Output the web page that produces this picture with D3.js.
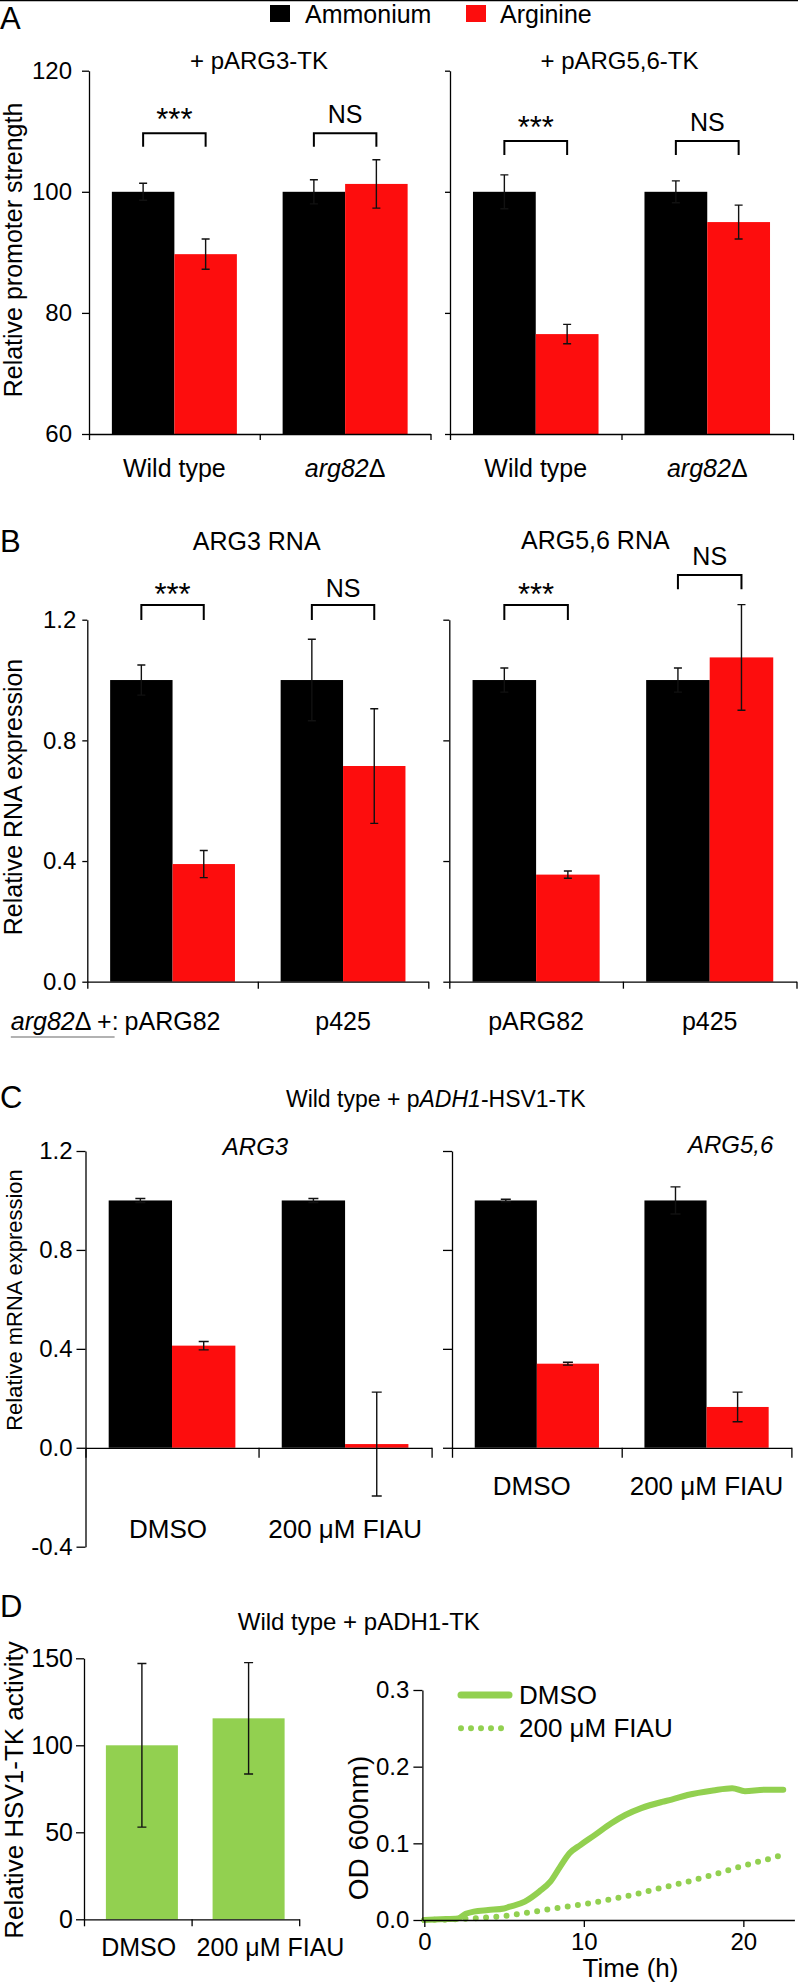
<!DOCTYPE html>
<html><head><meta charset="utf-8">
<script src="https://cdn.jsdelivr.net/npm/d3@7"></script>
<style>
body{margin:0;background:#fff;}
svg text{font-family:"Liberation Sans",Arial,Helvetica,sans-serif;fill:#000;}
</style></head><body>
<svg id="chart" width="798" height="1985"></svg>
<script>
// ---------------- DATA ----------------
const seriesNames = ["Ammonium", "Arginine"];

// Panel A (relative promoter strength)
const aCategories = ["Wild type", "arg82Δ"];
const aTicks = [60, 80, 100, 120];
const aArg3Ammonium = [100, 100];
const aArg3AmmoniumErr = [1.4, 2.0];
const aArg3Arginine = [89.7, 101.3];
const aArg3ArginineErr = [2.5, 4.0];
const aArg56Ammonium = [100, 100];
const aArg56AmmoniumErr = [2.8, 1.8];
const aArg56Arginine = [76.5, 95.0];
const aArg56ArginineErr = [1.6, 2.8];
const aArg3Sig = ["***", "NS"];
const aArg56Sig = ["***", "NS"];

// Panel B (relative RNA expression)
const bCategories = ["pARG82", "p425"];
const bTicks = [0.0, 0.4, 0.8, 1.2];
const bArg3Ammonium = [1.0, 1.0];
const bArg3AmmoniumErr = [0.05, 0.135];
const bArg3Arginine = [0.39, 0.715];
const bArg3ArginineErr = [0.045, 0.19];
const bArg56Ammonium = [1.0, 1.0];
const bArg56AmmoniumErr = [0.04, 0.04];
const bArg56Arginine = [0.355, 1.075];
const bArg56ArginineErr = [0.012, 0.175];
const bArg3Sig = ["***", "NS"];
const bArg56Sig = ["***", "NS"];

// Panel C (relative mRNA expression)
const cCategories = ["DMSO", "200 μM FIAU"];
const cTicks = [-0.4, 0.0, 0.4, 0.8, 1.2];
const cArg3Ammonium = [1.0, 1.0];
const cArg3AmmoniumErr = [0.008, 0.008];
const cArg3Arginine = [0.413, 0.015];
const cArg3ArginineErr = [0.017, 0.21];
const cArg56Ammonium = [1.0, 1.0];
const cArg56AmmoniumErr = [0.005, 0.055];
const cArg56Arginine = [0.34, 0.165];
const cArg56ArginineErr = [0.006, 0.06];

// Panel D left (relative HSV1-TK activity)
const dCategories = ["DMSO", "200 μM FIAU"];
const dTicks = [0, 50, 100, 150];
const dActivity = [100, 115.5];
const dActivityErr = [47, 32];

// Panel D right (growth curves)
const dTimeTicks = [0, 10, 20];
const dOdTicks = [0.0, 0.1, 0.2, 0.3];
const dmsoTime = [0, 1, 2.1, 2.6, 3.1, 4, 5, 5.3, 6.3, 7.2, 7.9, 8.5, 9.1, 9.8, 10.7, 11.7, 12.6, 13.6, 14.9, 15.5, 16.5, 18.1, 19.3, 20.1, 21.3, 22.5];
const dmsoOD = [0, 0.001, 0.002, 0.008, 0.011, 0.013, 0.015, 0.017, 0.024, 0.037, 0.050, 0.069, 0.087, 0.098, 0.111, 0.126, 0.137, 0.146, 0.154, 0.157, 0.163, 0.169, 0.172, 0.168, 0.170, 0.170];
const fiauTime = [0, 2.1, 3.7, 5.3, 6.9, 8.5, 10.1, 11.7, 13.3, 14.9, 16.5, 18.1, 19.7, 21.3, 22.5];
const fiauOD = [0, 0.001, 0.003, 0.006, 0.011, 0.016, 0.021, 0.027, 0.034, 0.042, 0.050, 0.059, 0.069, 0.078, 0.085];
const growthLabels = ["DMSO", "200 μM FIAU"];

// ---------------- STYLE ----------------
const colors = ["#000000", "#fd0d0d"];
const green = "#92d050";
const FONT = 25, TICKFONT = 24;

const svg = d3.select("#chart");
svg.append("rect").attr("width", 798).attr("height", 1985).attr("fill", "#fff");
svg.append("line").attr("x1", 0).attr("x2", 798).attr("y1", 0.6).attr("y2", 0.6).attr("stroke", "#000").attr("stroke-width", 1.4);

function parts(s) {
  if (s.startsWith("arg82")) return [["arg82", true], [s.slice(5), false]];
  return [[s, false]];
}
function richText(x, y, ps, size, anchor, rotate) {
  const t = svg.append("text").attr("font-size", size).attr("text-anchor", anchor || "middle");
  if (rotate) t.attr("transform", `translate(${x},${y}) rotate(-90)`);
  else t.attr("x", x).attr("y", y);
  ps.forEach(p => { const s = t.append("tspan").text(p[0]); if (p[1]) s.attr("font-style", "italic"); });
  return t;
}
function styleAxis(sel, fs) {
  sel.attr("font-family", null).attr("font-size", null);
  sel.select(".domain").attr("stroke", "#000").attr("stroke-width", 1.3);
  sel.selectAll(".tick line").attr("stroke", "#000").attr("stroke-width", 1.3);
  sel.selectAll(".tick text").attr("font-size", fs).attr("fill", "#000");
}
const fmt1 = d => d.toFixed(1);

function barPanel(p) {
  const g = svg.append("g");
  const y = d3.scaleLinear().domain(p.yDomain).range([p.yBottom, p.yTop]);
  const x = d3.scaleBand().domain(p.categories).range([p.x0, p.x1]);
  const xs = d3.scaleBand().domain([0, 1]).range([0, x.bandwidth()]).paddingOuter(p.outer);
  const base = y(p.base);
  p.series.forEach((s, si) => {
    g.append("g").selectAll("rect").data(s.values).join("rect")
      .attr("x", (d, i) => x(p.categories[i]) + xs(si))
      .attr("width", xs.bandwidth())
      .attr("y", d => Math.min(y(d), base))
      .attr("height", d => Math.abs(base - y(d)))
      .attr("fill", colors[si]);
  });
  p.series.forEach((s, si) => {
    const eg = g.append("g").attr("stroke", "#111").attr("stroke-width", 1.4).attr("fill", "none");
    s.values.forEach((v, i) => {
      const cx = x(p.categories[i]) + xs(si) + xs.bandwidth() / 2;
      const y1 = y(v + s.err[i]), y2 = y(v - s.err[i]);
      const c = p.cap / 2;
      eg.append("path").attr("d", `M${cx},${y1}V${y2}M${cx - c},${y1}H${cx + c}M${cx - c},${y2}H${cx + c}`);
    });
  });
  // y axis
  const ya = d3.scaleLinear().domain(p.axisDomain || p.yDomain).range((p.axisDomain || p.yDomain).map(y));
  const yAxis = d3.axisLeft(ya).tickValues(p.ticks).tickSize(p.yTick).tickSizeOuter(0).tickPadding(p.yPad)
    .tickFormat(p.showLabels ? p.fmt : "");
  styleAxis(g.append("g").attr("transform", `translate(${p.x0},0)`).call(yAxis), p.tickFont || TICKFONT);
  // x axis
  const n = p.categories.length;
  const xl = d3.scaleLinear().domain([0, n]).range([p.x0, p.x1]);
  const xAxis = d3.axisBottom(xl).tickValues(d3.range(n + 1)).tickFormat("").tickSize(p.xTick).tickSizeOuter(0);
  styleAxis(g.append("g").attr("transform", `translate(0,${y(p.base)})`).call(xAxis), 10);
  // category labels
  if (p.labelY) {
    p.categories.forEach((c, i) => {
      richText(x(c) + x.bandwidth() / 2 + (p.labelDx ? p.labelDx[i] : 0), p.labelY, parts(c), p.labelFont || FONT, "middle");
    });
  }
  // significance brackets
  if (p.sig) {
    p.sig.forEach((lab, i) => {
      const s = p.sigPos[i];
      const xa = x(p.categories[i]) + xs(0) + xs.bandwidth() / 2;
      const xb = x(p.categories[i]) + xs(1) + xs.bandwidth() / 2;
      g.append("path").attr("d", `M${xa},${s.bottom}V${s.top}H${xb}V${s.bottom}`)
        .attr("fill", "none").attr("stroke", "#000").attr("stroke-width", 2);
      g.append("text").attr("x", (xa + xb) / 2).attr("y", s.text).attr("text-anchor", "middle")
        .attr("font-size", lab === "NS" ? 25 : 31).text(lab);
    });
  }
  return { x, y, xs };
}

// ---------------- PANEL A ----------------
svg.append("text").attr("x", 0).attr("y", 29).attr("font-size", 31).text("A");
// legend
svg.append("rect").attr("x", 270).attr("y", 5).attr("width", 20).attr("height", 17).attr("fill", colors[0]);
svg.append("text").attr("x", 305).attr("y", 23).attr("font-size", FONT).text(seriesNames[0]);
svg.append("rect").attr("x", 466).attr("y", 5).attr("width", 20).attr("height", 17).attr("fill", colors[1]);
svg.append("text").attr("x", 500).attr("y", 23).attr("font-size", FONT).text(seriesNames[1]);

richText(259, 69, [["+ pARG3-TK", false]], 24);
richText(619.5, 69, [["+ pARG5,6-TK", false]], 24);
richText(22, 250, [["Relative promoter strength", false]], FONT, "middle", true);

barPanel({
  categories: aCategories, yDomain: [60, 120], base: 60, yTop: 70.7, yBottom: 434,
  x0: 89, x1: 430.5, outer: 0.366, cap: 8, yTick: 7, yPad: 10, xTick: 6, showLabels: true, fmt: d => d,
  ticks: aTicks, labelY: 477,
  series: [{ values: aArg3Ammonium, err: aArg3AmmoniumErr }, { values: aArg3Arginine, err: aArg3ArginineErr }],
  sig: aArg3Sig, sigPos: [{ top: 133.3, bottom: 146.7, text: 130 }, { top: 133.3, bottom: 146.7, text: 123.3 }]
});
barPanel({
  categories: aCategories, yDomain: [60, 120], base: 60, yTop: 70.7, yBottom: 434,
  x0: 450, x1: 793, outer: 0.366, cap: 8, yTick: 5, yPad: 3, xTick: 6, showLabels: false,
  ticks: aTicks, labelY: 477,
  series: [{ values: aArg56Ammonium, err: aArg56AmmoniumErr }, { values: aArg56Arginine, err: aArg56ArginineErr }],
  sig: aArg56Sig, sigPos: [{ top: 141, bottom: 155, text: 138.4 }, { top: 141, bottom: 155, text: 130.7 }]
});

// ---------------- PANEL B ----------------
svg.append("text").attr("x", 0).attr("y", 552).attr("font-size", 31).text("B");
richText(256.7, 550, [["ARG3 RNA", false]], FONT);
richText(595.3, 549, [["ARG5,6 RNA", false]], FONT);
richText(22, 797, [["Relative RNA expression", false]], FONT, "middle", true);

const bLeft = barPanel({
  categories: bCategories, yDomain: [0, 1.2], base: 0, yTop: 619.7, yBottom: 981.7,
  x0: 87.3, x1: 428.3, outer: 0.366, cap: 8, yTick: 5, yPad: 6, xTick: 7, showLabels: true, fmt: fmt1,
  ticks: bTicks, labelY: null,
  series: [{ values: bArg3Ammonium, err: bArg3AmmoniumErr }, { values: bArg3Arginine, err: bArg3ArginineErr }],
  sig: bArg3Sig, sigPos: [{ top: 605, bottom: 620, text: 605 }, { top: 605, bottom: 620, text: 596.7 }]
});
barPanel({
  categories: bCategories, yDomain: [0, 1.2], base: 0, yTop: 619.7, yBottom: 981.7,
  x0: 449.3, x1: 796.5, outer: 0.366, cap: 8, yTick: 6, yPad: 3, xTick: 7, showLabels: false,
  ticks: bTicks, labelY: 1030,
  series: [{ values: bArg56Ammonium, err: bArg56AmmoniumErr }, { values: bArg56Arginine, err: bArg56ArginineErr }],
  sig: bArg56Sig, sigPos: [{ top: 605, bottom: 620, text: 605 }, { top: 575, bottom: 589.3, text: 565 }]
});
// left B category labels with strain prefix
{
  const bx = bLeft.x;
  const c0 = bx(bCategories[0]) + bx.bandwidth() / 2;
  const t0 = richText(c0, 1030, parts(bCategories[0]), FONT, "middle");
  const w0 = t0.node().getComputedTextLength();
  const pre = richText(c0 - w0 / 2 - 6, 1030, [["arg82", true], ["Δ +:", false]], FONT, "end");
  const bb = pre.node().getBBox();
  svg.append("line").attr("x1", bb.x).attr("x2", bb.x + bb.width - 4).attr("y1", 1037).attr("y2", 1037)
    .attr("stroke", "#666").attr("stroke-width", 1.2);
  richText(bx(bCategories[1]) + bx.bandwidth() / 2, 1030, parts(bCategories[1]), FONT, "middle");
}

// ---------------- PANEL C ----------------
svg.append("text").attr("x", 0).attr("y", 1108).attr("font-size", 31).text("C");
richText(435.8, 1107, [["Wild type + p", false], ["ADH1", true], ["-HSV1-TK", false]], 23);
richText(255.5, 1155, [["ARG3", true]], 24);
richText(773.3, 1153, [["ARG5,6", true]], 24, "end");
richText(22, 1300, [["Relative mRNA expression", false]], 22, "middle", true);

barPanel({
  categories: cCategories, yDomain: [-0.4, 1.2], base: 0, yTop: 1151, yBottom: 1546.7,
  x0: 85.5, x1: 431.6, outer: 0.366, cap: 10, yTick: 9, yPad: 4, xTick: 10, showLabels: true, fmt: fmt1,
  ticks: cTicks, labelY: 1538, labelFont: 26, labelDx: [-4, 0],
  series: [{ values: cArg3Ammonium, err: cArg3AmmoniumErr }, { values: cArg3Arginine, err: cArg3ArginineErr }]
});
barPanel({
  categories: cCategories, yDomain: [-0.4, 1.2], base: 0, yTop: 1151, yBottom: 1546.7, axisDomain: [0, 1.2],
  x0: 452, x1: 791.4, outer: 0.366, cap: 10, yTick: 9, yPad: 3, xTick: 10, showLabels: false,
  ticks: cTicks.filter(t => t >= 0), labelY: 1495, labelFont: 26, labelDx: [-5, 0],
  series: [{ values: cArg56Ammonium, err: cArg56AmmoniumErr }, { values: cArg56Arginine, err: cArg56ArginineErr }]
});

// ---------------- PANEL D ----------------
svg.append("text").attr("x", 0).attr("y", 1617).attr("font-size", 31).text("D");
richText(358.8, 1630, [["Wild type + pADH1-TK", false]], 24);
richText(23, 1790, [["Relative HSV1-TK activity", false]], 26, "middle", true);

{
  const g = svg.append("g");
  const y = d3.scaleLinear().domain([0, 150]).range([1919.3, 1658.3]);
  const x = d3.scaleBand().domain(dCategories).range([84, 299.2]).paddingInner(0.325).paddingOuter(0.171).align(0.6);
  g.selectAll("rect").data(dActivity).join("rect")
    .attr("x", (d, i) => x(dCategories[i])).attr("width", x.bandwidth())
    .attr("y", d => y(d)).attr("height", d => y(0) - y(d)).attr("fill", green);
  dActivity.forEach((v, i) => {
    const cx = x(dCategories[i]) + x.bandwidth() / 2, y1 = y(v + dActivityErr[i]), y2 = y(v - dActivityErr[i]);
    g.append("path").attr("d", `M${cx},${y1}V${y2}M${cx - 4.5},${y1}H${cx + 4.5}M${cx - 4.5},${y2}H${cx + 4.5}`)
      .attr("stroke", "#111").attr("stroke-width", 1.4).attr("fill", "none");
  });
  styleAxis(g.append("g").attr("transform", "translate(84,0)")
    .call(d3.axisLeft(y).tickValues(dTicks).tickSize(8).tickPadding(3).tickSizeOuter(0)), 25);
  const xl = d3.scaleLinear().domain([0, 2]).range([84, 299.2]);
  styleAxis(g.append("g").attr("transform", `translate(0,${y(0)})`)
    .call(d3.axisBottom(xl).tickValues([0, 1, 2]).tickFormat("").tickSize(7).tickSizeOuter(0)), 10);
  const lx = [138.7, 270.5];
  dCategories.forEach((c, i) => richText(lx[i], 1956, [[c, false]], 25, "middle"));
}
{
  const g = svg.append("g");
  const x = d3.scaleLinear().domain([-0.12, 23.2]).range([422.4, 794.4]);
  const y = d3.scaleLinear().domain([0, 0.3]).range([1920, 1690]);
  const line = d3.line().x(d => x(d[0])).y(d => y(d[1])).curve(d3.curveMonotoneX);
  g.append("path").datum(dmsoTime.map((t, i) => [t, dmsoOD[i]])).attr("d", line)
    .attr("fill", "none").attr("stroke", green).attr("stroke-width", 6).attr("stroke-linejoin", "round").attr("stroke-linecap", "round");
  g.append("path").datum(fiauTime.map((t, i) => [t, fiauOD[i]])).attr("d", line)
    .attr("fill", "none").attr("stroke", green).attr("stroke-width", 6).attr("stroke-linecap", "round").attr("stroke-dasharray", "0,10.3");
  styleAxis(g.append("g").attr("transform", "translate(422.4,0)")
    .call(d3.axisLeft(y).tickValues(dOdTicks).tickSize(9).tickPadding(4).tickSizeOuter(0).tickFormat(fmt1)), 24);
  styleAxis(g.append("g").attr("transform", `translate(0,${y(0)})`)
    .call(d3.axisBottom(x).tickValues(dTimeTicks).tickSize(7).tickPadding(6).tickSizeOuter(0).tickFormat(d3.format("d"))), 24);
  richText(630.5, 1977, [["Time (h)", false]], 26);
  richText(368, 1828, [["OD 600nm)", false]], 28, "middle", true);
  // legend
  g.append("line").attr("x1", 461).attr("x2", 509).attr("y1", 1695).attr("y2", 1695)
    .attr("stroke", green).attr("stroke-width", 7).attr("stroke-linecap", "round");
  g.append("line").attr("x1", 461).attr("x2", 509).attr("y1", 1728.3).attr("y2", 1728.3)
    .attr("stroke", green).attr("stroke-width", 6).attr("stroke-linecap", "round").attr("stroke-dasharray", "0,10");
  g.append("text").attr("x", 519).attr("y", 1704).attr("font-size", 26).text(growthLabels[0]);
  g.append("text").attr("x", 519).attr("y", 1737).attr("font-size", 26).text(growthLabels[1]);
}
</script>
</body></html>
